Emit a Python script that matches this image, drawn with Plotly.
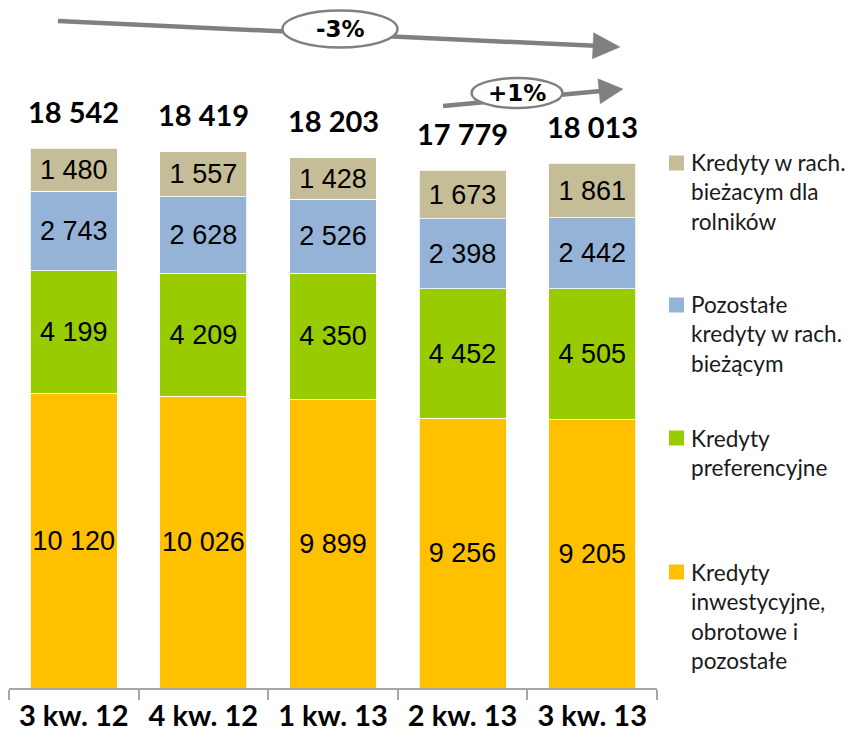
import numpy as np
import plotly.graph_objects as go

# ---------------- data ----------------
categories = ["3 kw. 12", "4 kw. 12", "1 kw. 13", "2 kw. 13", "3 kw. 13"]
series_names = [
    "Kredyty<br>inwestycyjne,<br>obrotowe i<br>pozostałe",
    "Kredyty<br>preferencyjne",
    "Pozostałe<br>kredyty w rach.<br>bieżącym",
    "Kredyty w rach.<br>bieżacym dla<br>rolników",
]
inwestycyjne = [10120, 10026, 9899, 9256, 9205]
preferencyjne = [4199, 4209, 4350, 4452, 4505]
pozostale_rach = [2743, 2628, 2526, 2398, 2442]
rolnicy_rach = [1480, 1557, 1428, 1673, 1861]
totals = [18542, 18419, 18203, 17779, 18013]
change_labels = ["-3%", "+1%"]

series_values = [inwestycyjne, preferencyjne, pozostale_rach, rolnicy_rach]
colors = ["#FFC000", "#99CC00", "#95B3D7", "#C4BD97"]

# ---------------- layout constants ----------------
W, H = 852, 735
L, R, T, B = 9, 195, 0, 47
PW, PH = W - L - R, H - T - B
YMAX = 23624


def px2paper(px, py):
    return (px - L) / PW, 1 - (py - T) / PH


fig = go.Figure()
for name, vals, col in zip(series_names, series_values, colors):
    fig.add_trace(go.Bar(
        x=categories, y=vals, name=name,
        marker=dict(color=col, line=dict(color="rgba(255,255,255,0.8)", width=1)),
        texttemplate="%{y:,}", textposition="inside", insidetextanchor="middle",
        constraintext="none", textangle=0,
        textfont=dict(family="Liberation Sans, Arial", size=27, color="#000000"),
        showlegend=False, hoverinfo="skip",
    ))

annotations = []
# totals above bars
for c, t in zip(categories, totals):
    annotations.append(dict(
        x=c, y=t, xref="x", yref="y", text=f"{t:,}".replace(",", " "),
        showarrow=False, yanchor="middle", yshift=37,
        font=dict(family="Lato", size=29, color="#000000", weight="bold"),
    ))

shapes = []
# trend arrows (pixel geometry)
arrow_specs = [
    dict(tail=(58, 21), tip=(620, 47), head_len=27, head_w=26, ell=(340, 29, 115, 37)),
    dict(tail=(443, 106), tip=(623, 89), head_len=24, head_w=25, ell=(517, 93, 91, 30)),
]
ac = "#808080"
for spec, lab in zip(arrow_specs, change_labels):
    tail = np.array(spec["tail"], float)
    tip = np.array(spec["tip"], float)
    d = (tip - tail) / np.linalg.norm(tip - tail)
    n = np.array([-d[1], d[0]])
    base = tip - spec["head_len"] * d
    p1 = base + spec["head_w"] / 2 * n
    p2 = base - spec["head_w"] / 2 * n
    x0, y0 = px2paper(*tail)
    x1, y1 = px2paper(*(base + 2 * d))
    shapes.append(dict(type="line", xref="paper", yref="paper", x0=x0, y0=y0, x1=x1, y1=y1,
                       line=dict(color=ac, width=4.5)))
    pts = [px2paper(*tip), px2paper(*p1), px2paper(*p2)]
    path = "M {} {} L {} {} L {} {} Z".format(*[v for p in pts for v in p])
    shapes.append(dict(type="path", xref="paper", yref="paper", path=path,
                       fillcolor=ac, line=dict(color=ac, width=0.5)))
    cx, cy, ew, eh = spec["ell"]
    ex0, ey0 = px2paper(cx - ew / 2, cy + eh / 2)
    ex1, ey1 = px2paper(cx + ew / 2, cy - eh / 2)
    shapes.append(dict(type="circle", xref="paper", yref="paper", x0=ex0, y0=ey0, x1=ex1, y1=ey1,
                       fillcolor="#FFFFFF", line=dict(color=ac, width=2.5)))
    tx, ty = px2paper(cx, cy)
    annotations.append(dict(x=tx, y=ty, xref="paper", yref="paper", text=f"<b>{lab}</b>",
                            showarrow=False, xanchor="center", yanchor="middle",
                            font=dict(family="DejaVu Sans", size=23, color="#000000")))

# legend (top entry = top stack segment)
leg_first_line_y = [163, 305, 438, 572]
leg_fs = 22.6
leg_lh = 1.3 * leg_fs
for name, col, ly in zip(series_names[::-1], colors[::-1], leg_first_line_y):
    sx0, sy0 = px2paper(669, ly + 7.5)
    sx1, sy1 = px2paper(684, ly - 7.5)
    shapes.append(dict(type="rect", xref="paper", yref="paper", x0=sx0, y0=sy0, x1=sx1, y1=sy1,
                       fillcolor=col, line=dict(width=0)))
    nlines = name.count("<br>") + 1
    center = ly + (nlines - 1) * leg_lh / 2
    tx, ty = px2paper(690, center)
    annotations.append(dict(x=tx, y=ty, xref="paper", yref="paper", text=name, align="left",
                            showarrow=False, xanchor="left", yanchor="middle", borderpad=0,
                            font=dict(family="Lato", size=leg_fs, color="#1a1a1a")))

fig.update_layout(
    width=W, height=H,
    margin=dict(l=L, r=R, t=T, b=B, autoexpand=False),
    barmode="stack", bargap=0.33,
    separators=", ",
    plot_bgcolor="#FFFFFF", paper_bgcolor="#FFFFFF",
    xaxis=dict(type="category", tickson="boundaries", ticks="outside", ticklen=10,
               tickcolor="#a6a6a6", tickwidth=2, showline=True, linecolor="#a6a6a6",
               linewidth=2, showgrid=False, ticklabelstandoff=1,
               tickfont=dict(family="Lato", size=29, color="#000000", weight="bold")),
    yaxis=dict(visible=False, range=[0, YMAX], fixedrange=True),
    annotations=annotations, shapes=shapes,
)
fig.write_html("out.html", config={"displayModeBar": False},
               post_script="document.body.style.margin='0';document.body.style.overflow='hidden';")
